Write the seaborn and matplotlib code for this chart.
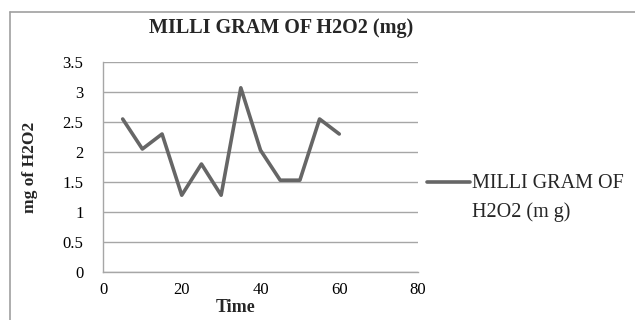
import matplotlib
matplotlib.use("Agg")
import matplotlib.pyplot as plt
import seaborn as sns
import pandas as pd
from matplotlib.lines import Line2D

time = [5, 10, 15, 20, 25, 30, 35, 40, 45, 50, 55, 60]
mg_h2o2 = [2.55, 2.05, 2.3, 1.28, 1.8, 1.28, 3.07, 2.03, 1.53, 1.53, 2.55, 2.3]
series_name = "MILLI GRAM OF\nH2O2 (m g)"
title = "MILLI GRAM OF H2O2 (mg)"
xticks = [0, 20, 40, 60, 80]
yticks = [0, 0.5, 1, 1.5, 2, 2.5, 3, 3.5]

sns.set_style("white")
plt.rcParams['font.family'] = ['Liberation Serif', 'DejaVu Serif']

df = pd.DataFrame({"Time": time, "mg": mg_h2o2})

fig = plt.figure(figsize=(6.35, 3.2), dpi=100)
W, H = 635, 320
ax = fig.add_axes([103 / W, 1 - 272 / H, (418 - 103) / W, (272 - 62) / H])

sns.lineplot(data=df, x="Time", y="mg", ax=ax, color="#666666", linewidth=2.6,
             legend=False)

ax.set_xlim(0, 80)
ax.set_ylim(0, 3.5)
ax.set_xticks(xticks)
ax.set_yticks(yticks)
ax.set_xticklabels([str(v) for v in xticks])
ax.set_yticklabels([f"{v:g}" for v in yticks])
ax.tick_params(axis='both', labelsize=12, colors="#000000", length=0)
ax.tick_params(axis='y', pad=14)
ax.tick_params(axis='x', pad=7)
ax.yaxis.grid(True, color="#a6a6a6", linewidth=1)
ax.xaxis.grid(False)
for s in ["top", "right"]:
    ax.spines[s].set_visible(False)
for s in ["left", "bottom"]:
    ax.spines[s].set_color("#a6a6a6")
    ax.spines[s].set_linewidth(1)

ax.set_xlabel("Time", fontsize=13, fontweight="bold")
ax.xaxis.set_label_coords((236 - 103) / (418 - 103), -(307 - 272) / (272 - 62))
ax.xaxis.label.set_verticalalignment("center")
ax.set_ylabel("mg of H2O2", fontsize=12.5, fontweight="bold")
ax.yaxis.set_label_coords(-(103 - 30) / (418 - 103), 0.5)
ax.yaxis.label.set_verticalalignment("center")

fig.text(281 / W, 1 - 28 / H, title, fontsize=14.5, fontweight="bold",
         ha="center", va="center")

# legend (handle aligned with first text line, as in the reference)
fig.add_artist(Line2D([427 / W, 470 / W], [1 - 182 / H, 1 - 182 / H],
                      color="#666666", linewidth=2.6, transform=fig.transFigure))
line1, line2 = series_name.split("\n")
fig.text(472 / W, 1 - 183 / H, line1, fontsize=14.5, ha="left", va="center")
fig.text(472 / W, 1 - 212 / H, line2, fontsize=14.5, ha="left", va="center")

# outer chart frame (left & top)
fig.add_artist(Line2D([10 / W, 10 / W], [0, 1 - 12 / H], color="#a0a0a0",
                      linewidth=1.2, transform=fig.transFigure))
fig.add_artist(Line2D([10 / W, 1], [1 - 12 / H, 1 - 12 / H], color="#a0a0a0",
                      linewidth=1.2, transform=fig.transFigure))

fig.savefig("out.png", dpi=100)
